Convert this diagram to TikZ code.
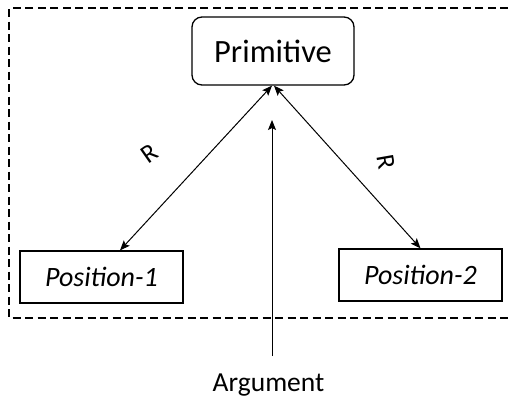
\documentclass[tikz,border=0pt]{standalone}
\usepackage{fontspec}
\setmainfont{Carlito}
\usetikzlibrary{arrows.meta}
\tikzset{
  primbox/.style={draw,line width=1.3pt,rounded corners=10pt,minimum width=162pt,minimum height=68pt,font=\fontsize{32.5}{36}\selectfont},
  posbox/.style={draw,line width=1.3pt,minimum width=163pt,minimum height=52pt,font=\fontsize{28}{30}\selectfont\itshape},
  link/.style={line width=1pt},
  rlabel/.style={font=\fontsize{26}{28}\selectfont,inner sep=0pt},
  frame/.style={line width=1.2pt,dash pattern=on 8pt off 4.5pt}
}

\begin{document}
\begin{tikzpicture}[x=1pt,y=-1pt,>={Stealth[length=10pt,width=8pt,inset=2pt]}]
  \useasboundingbox (0,0) rectangle (508,399);
  % dashed frame, right side runs off the page
  \draw[frame] (508,8) -- (9,8) -- (9,318) -- (508,318);
  \node[primbox] (prim) at (273,51) {Primitive};
  \node[posbox] (pos1) at (101.5,277) {Position-1};
  \node[posbox] (pos2) at (420.5,275) {Position-2};
  \node[font=\fontsize{27.5}{30}\selectfont,anchor=base,inner sep=2pt] (arg) at (268.5,391) {Argument};
  \coordinate (argtip) at (272,120);
  \draw[link,<->] ([xshift=-1pt]prim.south) -- node[rlabel,pos=0.41,xshift=-60pt,rotate=35] {R} ([xshift=18.5pt]pos1.north);
  \draw[link,<->] ([xshift=1pt]prim.south) -- node[rlabel,pos=0.47,xshift=43pt,rotate=-80] {R} (pos2.north);
  \draw[link,->,shorten <=15pt] ([xshift=3.5pt]arg.north) -- (argtip);
\end{tikzpicture}
\end{document}
